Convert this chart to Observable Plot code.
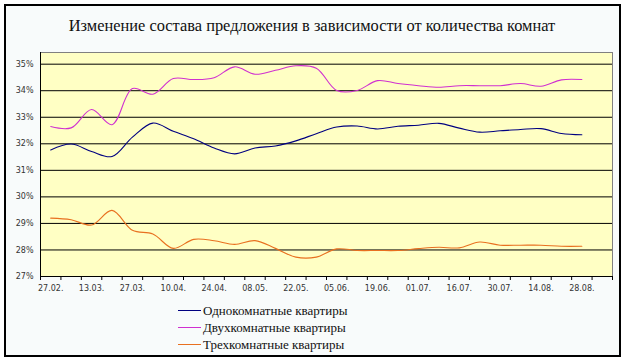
<!DOCTYPE html>
<html>
<head>
<meta charset="utf-8">
<script src="https://cdn.jsdelivr.net/npm/d3@7"></script>
<script src="https://cdn.jsdelivr.net/npm/@observablehq/plot@0.6"></script>
<style>
  html, body { margin: 0; padding: 0; background: #ffffff; }
  #wrap { position: relative; width: 624px; height: 360px; overflow: hidden; background: #ffffff; }
  #frame { position: absolute; left: 4px; top: 4px; width: 613px; height: 349px; border: 2px solid #000; background: #f8fbfb; }
  #title { position: absolute; left: 0; top: 16px; width: 624px; text-align: center; font-family: "Liberation Serif", serif; font-size: 16.4px; color: #111; }
  #chart { position: absolute; left: 0; top: 40px; }
  #legend { position: absolute; left: 178px; top: 302px; font-family: "Liberation Serif", serif; font-size: 13px; color: #111; }
  .row { height: 17px; display: flex; align-items: center; }
  .sw { width: 23px; height: 1px; margin-right: 2px; }
</style>
</head>
<body>
<div id="wrap">
  <div id="frame"></div>
  <div id="title">Изменение состава предложения в зависимости от количества комнат</div>
  <div id="chart"></div>
  <div id="legend"></div>
</div>
<script>
const dates = ["27.02.","06.03.","13.03.","20.03.","27.03.","03.04.","10.04.","17.04.","24.04.","01.05.","08.05.","15.05.","22.05.","29.05.","05.06.","12.06.","19.06.","26.06.","01.07.","09.07.","16.07.","23.07.","30.07.","07.08.","14.08.","21.08.","28.08."];
const seriesNames = ["Однокомнатные квартиры", "Двухкомнатные квартиры", "Трехкомнатные квартиры"];
const oneRoom = [31.77,31.99,31.71,31.52,32.25,32.78,32.47,32.19,31.84,31.62,31.84,31.92,32.11,32.38,32.63,32.67,32.56,32.66,32.70,32.77,32.59,32.44,32.49,32.54,32.57,32.39,32.34];
const twoRoom = [32.65,32.60,33.29,32.72,34.08,33.87,34.46,34.42,34.49,34.90,34.62,34.77,34.94,34.85,34.01,34.01,34.38,34.27,34.19,34.13,34.19,34.19,34.19,34.27,34.17,34.41,34.42];
const threeRoom = [29.20,29.14,28.94,29.49,28.74,28.60,28.06,28.40,28.35,28.21,28.35,28.06,27.73,27.73,28.04,27.98,27.98,27.98,28.05,28.10,28.08,28.30,28.18,28.18,28.18,28.14,28.14];
const yTicks = [27, 28, 29, 30, 31, 32, 33, 34, 35];
const colors = ["#000080", "#d030d0", "#e87020"];

const nCats = dates.length + 1; // one empty category at the end
const seriesValues = [oneRoom, twoRoom, threeRoom];
const data = [];
seriesValues.forEach((vals, s) => vals.forEach((v, i) => data.push({i, v, s: seriesNames[s]})));
const boundaries = d3.range(nCats + 1).map(k => k - 0.5);
const labelIdx = d3.range(0, dates.length, 2);

const chart = Plot.plot({
  width: 624,
  height: 262,
  marginLeft: 40,
  marginRight: 12,
  marginTop: 12,
  marginBottom: 26,
  style: {background: "transparent", fontFamily: "DejaVu Sans, sans-serif", fontSize: "8px", color: "#222"},
  x: {type: "linear", domain: [-0.5, nCats - 0.5]},
  y: {domain: [27, 35.44]},
  color: {domain: seriesNames, range: colors},
  marks: [
    Plot.frame({fill: "#ffffc4", stroke: "#808080"}),
    Plot.ruleY(yTicks.slice(1), {stroke: "#000", strokeWidth: 1}),
    Plot.ruleY([27], {stroke: "#000", strokeWidth: 1}),
    Plot.ruleX([-0.5], {stroke: "#000", strokeWidth: 1}),
    Plot.line(data, {x: "i", y: "v", z: "s", stroke: "s", curve: "catmull-rom", strokeWidth: 1.1}),
    Plot.axisY({ticks: yTicks, tickSize: 0, tickPadding: 7, tickFormat: d => d + "%", label: null, fill: "#333"}),
    Plot.axisX({ticks: boundaries, tickSize: 4, tickFormat: () => "", label: null, stroke: "#000"}),
    Plot.axisX({ticks: labelIdx, tickSize: 0, tickPadding: 9, tickFormat: i => dates[i], label: null, fill: "#333"})
  ]
});
document.getElementById("chart").appendChild(chart);

const legend = document.getElementById("legend");
seriesNames.forEach((name, k) => {
  const row = document.createElement("div");
  row.className = "row";
  const sw = document.createElement("span");
  sw.className = "sw";
  sw.style.background = colors[k];
  const t = document.createElement("span");
  t.textContent = name;
  row.appendChild(sw);
  row.appendChild(t);
  legend.appendChild(row);
});
</script>
</body>
</html>
